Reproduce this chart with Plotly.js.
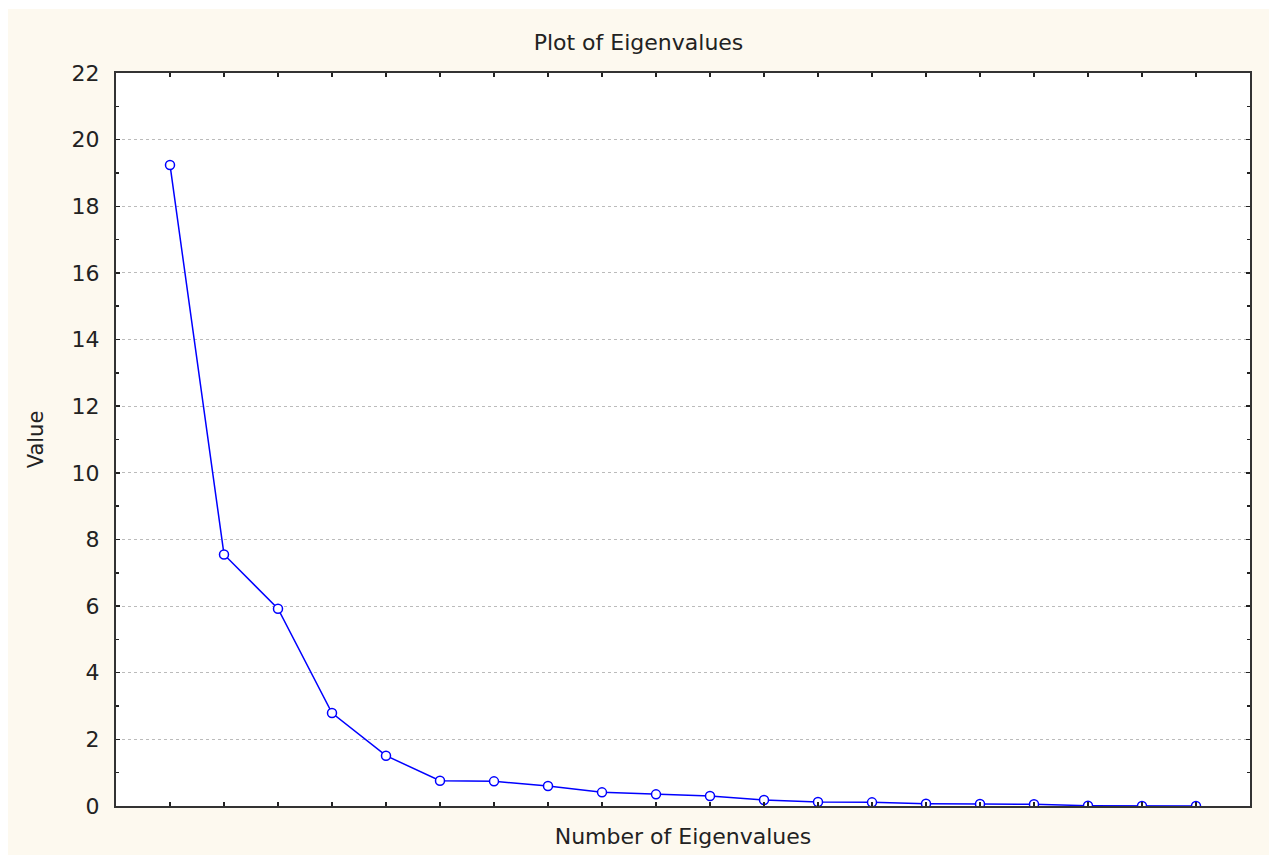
<!DOCTYPE html>
<html>
<head>
<meta charset="utf-8">
<script src="https://cdn.plot.ly/plotly-3.0.1.min.js"></script>
<style>
  html, body { margin: 0; padding: 0; background: #ffffff; }
  #chart { position: absolute; left: 8px; top: 9px; width: 1261px; height: 846px; }
</style>
</head>
<body>
<div id="chart"></div>
<script>
const eigenNumber = [1, 2, 3, 4, 5, 6, 7, 8, 9, 10, 11, 12, 13, 14, 15, 16, 17, 18, 19, 20];
const eigenValue = [19.24, 7.55, 5.92, 2.79, 1.51, 0.76, 0.74, 0.60, 0.41, 0.35, 0.30, 0.18, 0.12, 0.11, 0.07, 0.06, 0.05, 0.01, 0.0, 0.0];
const chartTitle = 'Plot of Eigenvalues';
const xTitle = 'Number of Eigenvalues';
const yTitle = 'Value';

const trace = {
  x: eigenNumber,
  y: eigenValue,
  type: 'scatter',
  mode: 'lines+markers',
  line: { color: '#0000ff', width: 1.5 },
  marker: { symbol: 'circle', size: 9, color: '#ffffff', line: { color: '#0000ff', width: 1.5 } },
  cliponaxis: true,
  hoverinfo: 'x+y'
};

const layout = {
  width: 1261,
  height: 846,
  paper_bgcolor: '#fdf9ef',
  plot_bgcolor: '#ffffff',
  font: { family: 'DejaVu Sans, Verdana, sans-serif', color: '#222222', size: 21 },
  margin: { l: 108, r: 19, t: 64, b: 49 },
  showlegend: false,
  title: { text: chartTitle, x: 0.5, xref: 'container', y: 1 - 33 / 846, yanchor: 'middle', font: { size: 22 } },
  xaxis: {
    range: [0, 21],
    tickvals: eigenNumber,
    showticklabels: false,
    ticks: 'inside',
    ticklen: 4,
    tickwidth: 1.5,
    tickcolor: '#222222',
    mirror: 'ticks',
    showline: true,
    linecolor: '#333333',
    linewidth: 2,
    showgrid: false,
    zeroline: false,
    title: { text: xTitle, standoff: 22, font: { size: 22 } }
  },
  yaxis: {
    range: [0, 22],
    tick0: 0,
    dtick: 2,
    ticks: 'inside',
    ticklen: 4,
    tickwidth: 1.5,
    tickcolor: '#222222',
    tickfont: { size: 22 },
    ticklabelstandoff: 10,
    minor: { dtick: 1, ticks: 'inside', ticklen: 3, tickwidth: 1.5, tickcolor: '#222222', showgrid: false },
    mirror: 'ticks',
    showline: true,
    linecolor: '#333333',
    linewidth: 2,
    showgrid: true,
    gridcolor: '#bbbbbb',
    griddash: 'dot',
    gridwidth: 1,
    zeroline: false,
    title: { text: yTitle, standoff: 22, font: { size: 21 } }
  }
};

Plotly.newPlot('chart', [trace], layout, { displayModeBar: false, staticPlot: true });
</script>
</body>
</html>
